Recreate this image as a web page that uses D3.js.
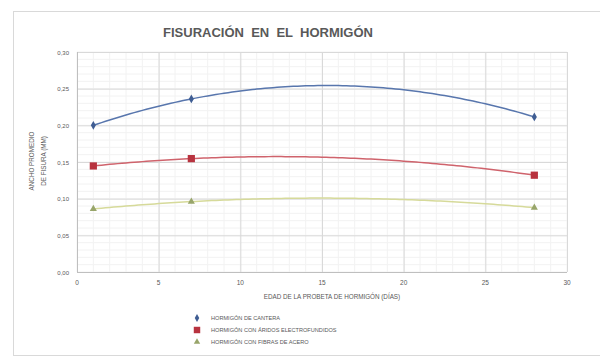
<!DOCTYPE html>
<html><head><meta charset="utf-8">
<script src="https://cdn.jsdelivr.net/npm/d3@7"></script>
<style>body{margin:0;background:#fff}text{font-family:"Liberation Sans",Arial,sans-serif}</style>
</head><body><svg id="c" width="600" height="362"></svg>
<script>
// Crack width measured at each specimen age (days)
const ages = [1, 7, 28];
const cantera = [0.200, 0.236, 0.2115];
const electro = [0.1446, 0.1546, 0.132];
const fibras = [0.086, 0.096, 0.0877];
const seriesNames = [
  "HORMIGÓN DE CANTERA",
  "HORMIGÓN CON ÁRIDOS ELECTROFUNDIDOS",
  "HORMIGÓN CON FIBRAS DE ACERO"
];
const xTicks = [0, 5, 10, 15, 20, 25, 30];
const yTicks = [0, 0.05, 0.10, 0.15, 0.20, 0.25, 0.30];
const titleText = "FISURACIÓN  EN  EL  HORMIGÓN";
const xTitle = "EDAD DE LA PROBETA DE HORMIGÓN (DÍAS)";
const yTitle = ["ANCHO PROMEDIO", "DE FISURA (MM)"];

const styles = [
  {line: "#5876ad", mark: "#3f5d93", shape: d3.symbolDiamond, size: 22},
  {line: "#cf636c", mark: "#b8333f", shape: d3.symbolSquare, size: 52},
  {line: "#d6da9a", mark: "#98a56a", shape: d3.symbolTriangle, size: 22}
];
const data = [cantera, electro, fibras];

const svg = d3.select("#c");
const m = {left: 77, right: 567, top: 52, bottom: 272};

// chart frame
svg.append("rect").attr("x", 13.5).attr("y", 11.5).attr("width", 600).attr("height", 344)
  .attr("fill", "#fff").attr("stroke", "#d9d9d9");

const x = d3.scaleLinear().domain([0, 30]).range([m.left, m.right]);
const y = d3.scaleLinear().domain([0, 0.30]).range([m.bottom, m.top]);
const loc = d3.formatLocale({decimal: ",", thousands: ".", grouping: [3], currency: ["", "€"]});
const fy = loc.format(".2f");

// minor grid
const g = svg.append("g");
g.selectAll(".mx").data(d3.range(0, 30.01, 1)).join("line")
  .attr("x1", d => x(d)).attr("x2", d => x(d)).attr("y1", m.top).attr("y2", m.bottom)
  .attr("stroke", "#f2f2f2").attr("stroke-width", 1);
g.selectAll(".my").data(d3.range(0, 0.3001, 0.01)).join("line")
  .attr("y1", d => y(d)).attr("y2", d => y(d)).attr("x1", m.left).attr("x2", m.right)
  .attr("stroke", "#f2f2f2").attr("stroke-width", 1);

// major grid via axes
svg.append("g").attr("transform", `translate(0,${m.bottom})`)
  .call(d3.axisBottom(x).tickValues(xTicks).tickSize(-(m.bottom - m.top)).tickFormat(""))
  .call(a => a.select(".domain").remove())
  .call(a => a.selectAll("line").attr("stroke", "#d9d9d9"));
svg.append("g").attr("transform", `translate(${m.left},0)`)
  .call(d3.axisLeft(y).tickValues(yTicks).tickSize(-(m.right - m.left)).tickFormat(""))
  .call(a => a.select(".domain").remove())
  .call(a => a.selectAll("line").attr("stroke", "#d9d9d9"));

// axis lines and labels
svg.append("line").attr("x1", m.left).attr("x2", m.right).attr("y1", m.bottom + 0.5).attr("y2", m.bottom + 0.5)
  .attr("stroke", "#bfbfbf");
svg.append("line").attr("x1", m.left + 0.5).attr("x2", m.left + 0.5).attr("y1", m.top).attr("y2", m.bottom)
  .attr("stroke", "#bfbfbf");
svg.append("g").selectAll("text").data(xTicks).join("text")
  .attr("x", d => x(d)).attr("y", m.bottom + 13).attr("text-anchor", "middle")
  .attr("font-size", 6.5).attr("fill", "#595959").text(d => d);
svg.append("g").selectAll("text").data(yTicks).join("text")
  .attr("x", m.left - 8).attr("y", d => y(d) + 2.5).attr("text-anchor", "end")
  .attr("font-size", 6).attr("fill", "#595959").text(d => fy(d));

// titles
svg.append("text").attr("x", 268).attr("y", 37).attr("text-anchor", "middle")
  .attr("font-size", 13).attr("font-weight", "bold").attr("fill", "#595959")
  .style("white-space", "pre").text(titleText);
svg.append("text").attr("x", 332).attr("y", 299).attr("text-anchor", "middle")
  .attr("font-size", 6.3).attr("fill", "#595959").text(xTitle);
yTitle.forEach((t, i) => {
  svg.append("text").attr("transform", `translate(${34 + i * 12},161) rotate(-90)`)
    .attr("text-anchor", "middle").attr("font-size", 6.3).attr("fill", "#595959").text(t);
});

// second-order polynomial trendline through each series
function quadFit(xs, ys) {
  const [x0, x1, x2] = xs, [y0, y1, y2] = ys;
  return t => y0 * (t - x1) * (t - x2) / ((x0 - x1) * (x0 - x2))
            + y1 * (t - x0) * (t - x2) / ((x1 - x0) * (x1 - x2))
            + y2 * (t - x0) * (t - x1) / ((x2 - x0) * (x2 - x1));
}
const line = d3.line().x(d => x(d[0])).y(d => y(d[1]));
const tSamples = d3.range(ages[0], ages[ages.length - 1] + 0.001, 0.25);
data.forEach((vals, i) => {
  const f = quadFit(ages, vals);
  svg.append("path").datum(tSamples.map(t => [t, f(t)]))
    .attr("d", line).attr("fill", "none").attr("stroke", styles[i].line).attr("stroke-width", 1.5);
});
data.forEach((vals, i) => {
  svg.append("g").selectAll("path").data(ages.map((a, k) => [a, vals[k]])).join("path")
    .attr("transform", d => `translate(${x(d[0])},${y(d[1])})`)
    .attr("d", d3.symbol(styles[i].shape, styles[i].size)).attr("fill", styles[i].mark);
});

// legend
const lg = svg.append("g");
seriesNames.forEach((n, i) => {
  const yy = 318 + i * 12;
  lg.append("path").attr("transform", `translate(197,${yy})`)
    .attr("d", d3.symbol(styles[i].shape, styles[i].size * 0.8)).attr("fill", styles[i].mark);
  lg.append("text").attr("x", 211).attr("y", yy + 2).attr("font-size", 5.6).attr("fill", "#595959").text(n);
});
</script></body></html>
